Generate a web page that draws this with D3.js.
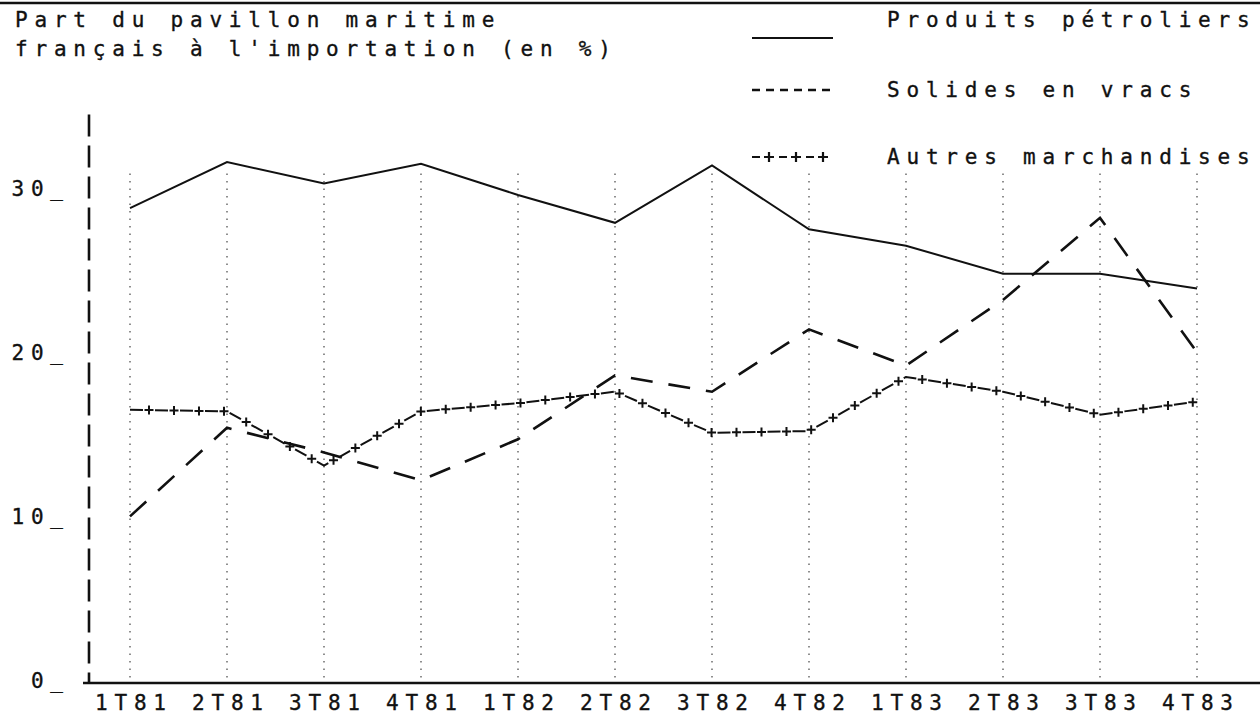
<!DOCTYPE html>
<html>
<head>
<meta charset="utf-8">
<script src="https://cdn.jsdelivr.net/npm/d3@7"></script>
<style>
  html, body { margin: 0; padding: 0; background: #fff; }
  svg { display: block; }
  text { font-family: "DejaVu Sans Mono", "Liberation Mono", monospace; font-size: 21px; fill: #111; stroke: #111; stroke-width: 0.35px; letter-spacing: 6.8px; }
</style>
</head>
<body>
<svg id="chart" width="1260" height="714"></svg>
<script>
// ---- data ----
const quarters = ["1T81","2T81","3T81","4T81","1T82","2T82","3T82","4T82","1T83","2T83","3T83","4T83"];
const petroliers = [28.9, 31.7, 30.4, 31.6, 29.7, 28.0, 31.5, 27.6, 26.6, 24.9, 24.9, 24.0];
const solides    = [10.1, 15.5, 14.0, 12.3, 14.8, 18.7, 17.7, 21.5, 19.3, 23.3, 28.3, 20.1];
const autres     = [16.6, 16.5, 13.2, 16.5, 17.0, 17.7, 15.2, 15.3, 18.6, 17.7, 16.3, 17.1];
const yTicks = [0, 10, 20, 30];
const titleLines = ["Part du pavillon maritime", "français à l'importation (en %)"];
const legendLabels = ["Produits pétroliers", "Solides en vracs", "Autres marchandises"];

// ---- layout ----
const W = 1260, H = 714;
const LS = 6.8; // letter spacing
const svg = d3.select("#chart");
const x = d3.scalePoint().domain(quarters).range([130, 1197]);
const y = d3.scaleLinear().domain([0, 30]).range([682, 190]);
const ink = "#111";

// top rule
svg.append("line").attr("x1", 0).attr("x2", W).attr("y1", 3).attr("y2", 3)
  .attr("stroke", ink).attr("stroke-width", 2.5);

// vertical dotted guides
svg.append("g").selectAll("line").data(quarters).join("line")
  .attr("x1", d => x(d)).attr("x2", d => x(d))
  .attr("y1", y(31)).attr("y2", y(0))
  .attr("stroke", "#333").attr("stroke-width", 1.1)
  .attr("stroke-dasharray", "1.5,6");

// y axis (dashed vertical line)
svg.append("line").attr("x1", 89).attr("x2", 89).attr("y1", y(34.6)).attr("y2", y(0))
  .attr("stroke", ink).attr("stroke-width", 2.6).attr("stroke-dasharray", "22,9");

// x axis line
svg.append("line").attr("x1", 83).attr("x2", W).attr("y1", y(0) + 1).attr("y2", y(0) + 1)
  .attr("stroke", ink).attr("stroke-width", 2.6);

// y tick labels via axis
const yAxis = svg.append("g").attr("transform", `translate(${63 + LS},0)`)
  .call(d3.axisLeft(y).tickValues(yTicks).tickSize(0).tickPadding(0).tickFormat(d => d + "_"));
yAxis.select(".domain").remove();
yAxis.attr("font-family", null).attr("font-size", null);
yAxis.selectAll("text").attr("dy", "0.25em");

// x tick labels via axis
const xAxis = svg.append("g").attr("transform", `translate(${LS / 2},${y(0)})`)
  .call(d3.axisBottom(x).tickSize(0).tickPadding(0));
xAxis.select(".domain").remove();
xAxis.attr("font-family", null).attr("font-size", null);
xAxis.selectAll("text").attr("y", 28).attr("dy", 0);

// title
svg.append("g").selectAll("text").data(titleLines).join("text")
  .attr("x", 15).attr("y", (d, i) => 27 + i * 29).text(d => d);

// lines
const line = d3.line().x((d, i) => x(quarters[i])).y(d => y(d));

svg.append("path").datum(petroliers).attr("d", line)
  .attr("fill", "none").attr("stroke", ink).attr("stroke-width", 2);

svg.append("path").datum(solides).attr("d", line)
  .attr("fill", "none").attr("stroke", ink).attr("stroke-width", 2.6)
  .attr("stroke-dasharray", "22,16");

const autresPath = svg.append("path").datum(autres).attr("d", line)
  .attr("fill", "none").attr("stroke", ink).attr("stroke-width", 2)
  .attr("stroke-dasharray", "13,12");

function plusMarkers(pathNode, start, step, size) {
  const L = pathNode.getTotalLength();
  const pts = [];
  for (let s = start; s < L; s += step) pts.push(pathNode.getPointAtLength(s));
  const g = svg.append("g").attr("stroke", ink).attr("stroke-width", 2);
  g.selectAll("path").data(pts).join("path")
    .attr("d", p => `M${p.x - size},${p.y}H${p.x + size}M${p.x},${p.y - size}V${p.y + size}`);
}
plusMarkers(autresPath.node(), 19, 25, 4.5);

// legend
const legX1 = 752, legX2 = 833, legTextX = 887;
const legRows = [
  { label: legendLabels[0], ty: 27, ly: 38, type: "solid" },
  { label: legendLabels[1], ty: 97, ly: 90, type: "dash" },
  { label: legendLabels[2], ty: 164, ly: 157, type: "plus" }
];
const leg = svg.append("g");
legRows.forEach(r => {
  leg.append("text").attr("x", legTextX).attr("y", r.ty).text(r.label);
  if (r.type === "solid") {
    leg.append("line").attr("x1", legX1).attr("x2", legX2).attr("y1", r.ly).attr("y2", r.ly)
      .attr("stroke", ink).attr("stroke-width", 2);
  } else if (r.type === "dash") {
    leg.append("line").attr("x1", legX1).attr("x2", legX2).attr("y1", r.ly).attr("y2", r.ly)
      .attr("stroke", ink).attr("stroke-width", 2.4).attr("stroke-dasharray", "8,6");
  } else {
    leg.append("line").attr("x1", legX1).attr("x2", legX2).attr("y1", r.ly).attr("y2", r.ly)
      .attr("stroke", ink).attr("stroke-width", 2).attr("stroke-dasharray", "8,19");
    for (let k = 0; k < 3; k++) {
      const cx = legX1 + 17 + k * 27, cy = r.ly;
      leg.append("path").attr("d", `M${cx - 5},${cy}H${cx + 5}M${cx},${cy - 5}V${cy + 5}`)
        .attr("stroke", ink).attr("stroke-width", 2.2);
    }
  }
});
</script>
</body>
</html>
